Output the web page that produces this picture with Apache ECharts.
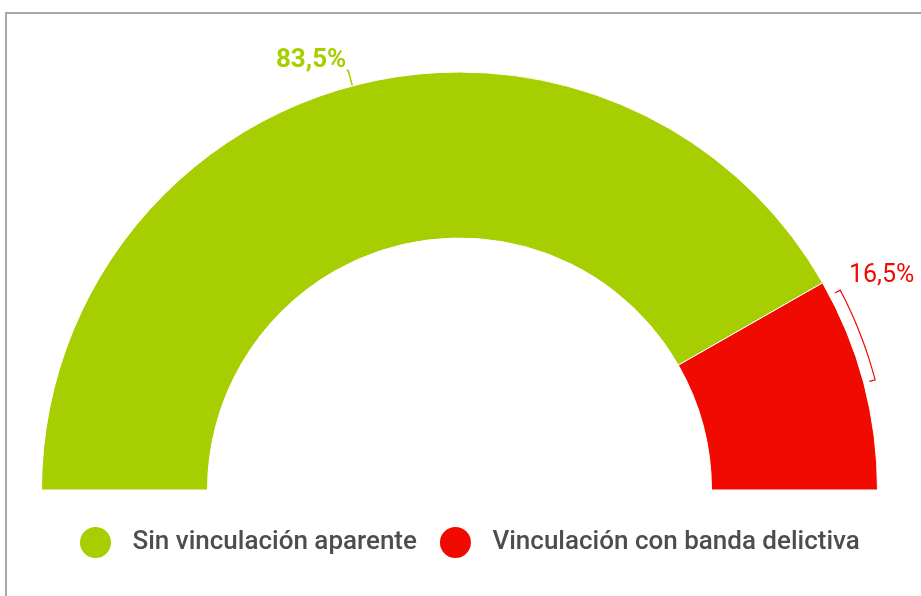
<!DOCTYPE html>
<html>
<head>
<meta charset="utf-8">
<script src="https://cdn.jsdelivr.net/npm/echarts@6/dist/echarts.min.js"></script>
<style>
  html, body { margin: 0; padding: 0; background: #fff; }
  #frame {
    position: absolute; left: 5px; top: 12px; width: 940px; height: 600px;
    border-top: 2px solid #a9a9a9; border-left: 2px solid #a9a9a9;
  }
  #chart { position: absolute; left: 0; top: 0; width: 921px; height: 596px; }
</style>
</head>
<body>
<div id="frame"></div>
<div id="chart"></div>
<script>
// categorias y valores (%)
const categories = ["Sin vinculación aparente", "Vinculación con banda delictiva"];
const values = [83.5, 16.5];
const colors = ["#a6ce00", "#f00a00"];

// geometria del semicirculo
const CX = 459.5, CY = 490, R_IN = 252, R_OUT = 418;

const chart = echarts.init(document.getElementById("chart"), null, { renderer: "canvas" });

const fmt = (v) => v.toFixed(1).replace(".", ",") + "%";

// punto sobre el arco (angulo en grados, 0 = derecha, sentido antihorario)
const pt = (r, deg) => {
  const a = (deg * Math.PI) / 180;
  return [CX + r * Math.cos(a), CY - r * Math.sin(a)];
};

// corchete de la etiqueta roja: desde la mitad del tramo hasta cerca de su borde superior
const bracket = () => {
  const total = values.reduce((s, v) => s + v, 0);
  const span = (values[1] / total) * 180;
  const a1 = span / 2, a2 = span - 2;
  const pts = [pt(R_OUT + 6, a2), pt(R_OUT + 12, a2)];
  for (let i = 1; i < 12; i++) pts.push(pt(R_OUT + 12, a2 - ((a2 - a1) * i) / 12));
  pts.push(pt(R_OUT + 12, a1), pt(R_OUT + 6, a1));
  return pts;
};

chart.setOption({
  animation: false,
  legend: {
    left: 73,
    top: 520,
    icon: "circle",
    itemWidth: 64,
    itemHeight: 33,
    itemGap: 21,
    textStyle: { fontFamily: "Roboto", fontSize: 26, fontWeight: 500, color: "#4d4d4d" },
    data: categories,
  },
  series: [
    {
      type: "pie",
      center: [CX, CY],
      radius: [R_IN, R_OUT],
      startAngle: 180,
      endAngle: 0,
      avoidLabelOverlap: false,
      itemStyle: { borderColor: "#fff", borderWidth: 1 },
      label: {
        show: true,
        position: "outside",
        fontFamily: "Roboto",
        formatter: (p) => fmt(p.value),
      },
      labelLine: { show: true, length: 16, length2: 2, lineStyle: { width: 1.5 } },
      labelLayout: (p) => {
        if (p.dataIndex === 0) return { dx: 5, dy: -10 };
        return {
          x: 849, y: 276, align: "left", verticalAlign: "middle",
          labelLinePoints: bracket(),
        };
      },
      emphasis: { disabled: true },
      data: categories.map((name, i) => ({
        name: name,
        value: values[i],
        itemStyle: { color: colors[i] },
        label: {
          color: colors[i],
          fontSize: i === 0 ? 26 : 25,
          fontWeight: i === 0 ? "bold" : "normal",
        },
        labelLine: { lineStyle: { color: colors[i], width: i === 0 ? 1.5 : 1.2 } },
      })),
    },
  ],
});
</script>
</body>
</html>
